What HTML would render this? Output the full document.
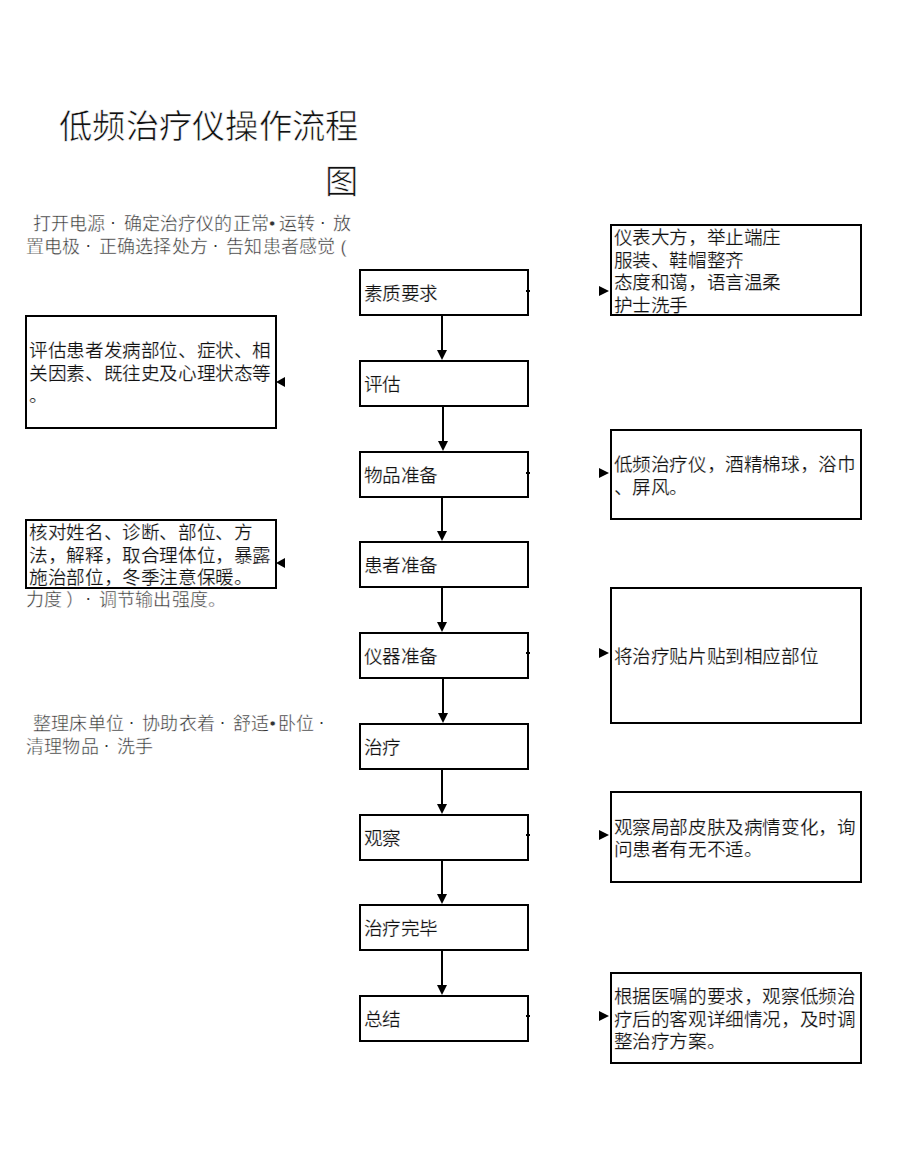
<!DOCTYPE html>
<html lang="zh-CN">
<head>
<meta charset="utf-8">
<style>
html,body{margin:0;padding:0;background:#fff;}
body{text-spacing-trim:space-all;width:920px;height:1171px;position:relative;overflow:hidden;font-family:"Liberation Sans",sans-serif;}
.t{position:absolute;white-space:nowrap;}
.title{font-size:33.3px;letter-spacing:0.3px;line-height:40px;color:#111;-webkit-text-stroke:0.6px #fff;}
.side{font-size:18px;letter-spacing:0.2px;line-height:22.5px;color:#333;-webkit-text-stroke:0.4px #fff;}
.box{position:absolute;box-sizing:border-box;border:2px solid #000;display:flex;align-items:center;}
.box .in{font-size:18.67px;letter-spacing:-0.4px;line-height:22.5px;color:#111;-webkit-text-stroke:0.2px #fff;white-space:nowrap;position:relative;top:2px;}
.c{left:359px;width:170px;height:47px;}
.c .in{padding-left:2.5px;}
.r{left:610px;width:252px;}
.r .in{padding-left:1.5px;}
.l{left:25px;width:252px;}
.l .in{padding-left:2.2px;}
.vl{position:absolute;width:2px;background:#000;}
.ad{position:absolute;width:0;height:0;border-left:5px solid transparent;border-right:5px solid transparent;border-top:10px solid #000;}
.ar{position:absolute;width:0;height:0;border-top:5px solid transparent;border-bottom:5px solid transparent;border-left:10px solid #000;}
.al{position:absolute;width:0;height:0;border-top:5px solid transparent;border-bottom:5px solid transparent;border-right:9.5px solid #000;}
.d{font-weight:normal;display:inline-block;width:18.2px;text-align:center;letter-spacing:0;position:relative;left:-1.5px;top:-2px;-webkit-text-stroke:0;}
.tick{position:absolute;left:526px;width:4px;height:2px;background:#000;}
</style>
</head>
<body>
<div class="t title" style="left:59px;top:106.5px;">低频治疗仪操作流程</div>
<div class="t title" style="left:325px;top:161.5px;">图</div>

<div class="t side" style="left:26px;top:213px;"><span style="padding-left:6.5px">打开电源<b class="d">·</b>确定治疗仪的正常<span style="letter-spacing:3.2px">•</span>运转<b class="d">·</b>放</span><br>置电极<b class="d">·</b>正确选择处方<b class="d">·</b>告知患者感觉 (</div>
<div class="t side" style="left:26px;top:589px;">力度<span style="position:relative;left:4px">）</span><b class="d">·</b>调节输出强度。</div>
<div class="t side" style="left:26px;top:713px;"><span style="padding-left:7px">整理床单位<b class="d">·</b>协助衣着<b class="d">·</b>舒适<span style="letter-spacing:1.7px">•</span>卧位<b class="d">·</b></span><br>清理物品<b class="d">·</b>洗手</div>

<div class="box c" style="top:269px"><div class="in">素质要求</div></div>
<div class="box c" style="top:360px"><div class="in">评估</div></div>
<div class="box c" style="top:451px"><div class="in">物品准备</div></div>
<div class="box c" style="top:541px"><div class="in">患者准备</div></div>
<div class="box c" style="top:632px"><div class="in">仪器准备</div></div>
<div class="box c" style="top:723px"><div class="in">治疗</div></div>
<div class="box c" style="top:814px"><div class="in">观察</div></div>
<div class="box c" style="top:904px"><div class="in">治疗完毕</div></div>
<div class="box c" style="top:995px"><div class="in">总结</div></div>

<div class="box r" style="top:224px;height:92px"><div class="in">仪表大方，举止端庄<br>服装、鞋帽整齐<br>态度和蔼，语言温柔<br>护士洗手</div></div>
<div class="box r" style="top:429px;height:91px"><div class="in">低频治疗仪，酒精棉球，浴巾<br>、屏风。</div></div>
<div class="box r" style="top:587px;height:137px"><div class="in">将治疗贴片贴到相应部位</div></div>
<div class="box r" style="top:791px;height:92px"><div class="in">观察局部皮肤及病情变化，询<br>问患者有无不适。</div></div>
<div class="box r" style="top:972px;height:92px"><div class="in">根据医嘱的要求，观察低频治<br>疗后的客观详细情况，及时调<br>整治疗方案。</div></div>

<div class="box l" style="top:315px;height:114px"><div class="in">评估患者发病部位、症状、相<br>关因素、既往史及心理状态等<br>。</div></div>
<div class="box l" style="top:519px;height:70px"><div class="in">核对姓名、诊断、部位、方<br>法，解释，取合理体位，暴露<br>施治部位，冬季注意保暖。</div></div>
<div class="vl" style="left:441px;top:316px;height:36px"></div>
<div class="ad" style="left:437px;top:350px"></div>
<div class="vl" style="left:442px;top:407px;height:36px"></div>
<div class="ad" style="left:438px;top:441px"></div>
<div class="vl" style="left:441px;top:498px;height:35px"></div>
<div class="ad" style="left:437px;top:531px"></div>
<div class="vl" style="left:441px;top:588px;height:36px"></div>
<div class="ad" style="left:437px;top:622px"></div>
<div class="vl" style="left:442px;top:679px;height:36px"></div>
<div class="ad" style="left:438px;top:713px"></div>
<div class="vl" style="left:441px;top:770px;height:36px"></div>
<div class="ad" style="left:437px;top:804px"></div>
<div class="vl" style="left:441px;top:861px;height:35px"></div>
<div class="ad" style="left:437px;top:894px"></div>
<div class="vl" style="left:441px;top:951px;height:36px"></div>
<div class="ad" style="left:437px;top:985px"></div>
<div class="ar" style="left:598.5px;top:286px"></div>
<div class="ar" style="left:598.5px;top:467.5px"></div>
<div class="ar" style="left:598.5px;top:648px"></div>
<div class="ar" style="left:598.5px;top:829.5px"></div>
<div class="ar" style="left:598.5px;top:1010.5px"></div>
<div class="al" style="left:275.5px;top:376.5px"></div>
<div class="al" style="left:275.5px;top:557.75px"></div>
<div class="tick" style="top:290px"></div>
<div class="tick" style="top:471.5px"></div>
<div class="tick" style="top:652px"></div>
<div class="tick" style="top:833.5px"></div>
<div class="tick" style="top:1014.5px"></div>
</body>
</html>
